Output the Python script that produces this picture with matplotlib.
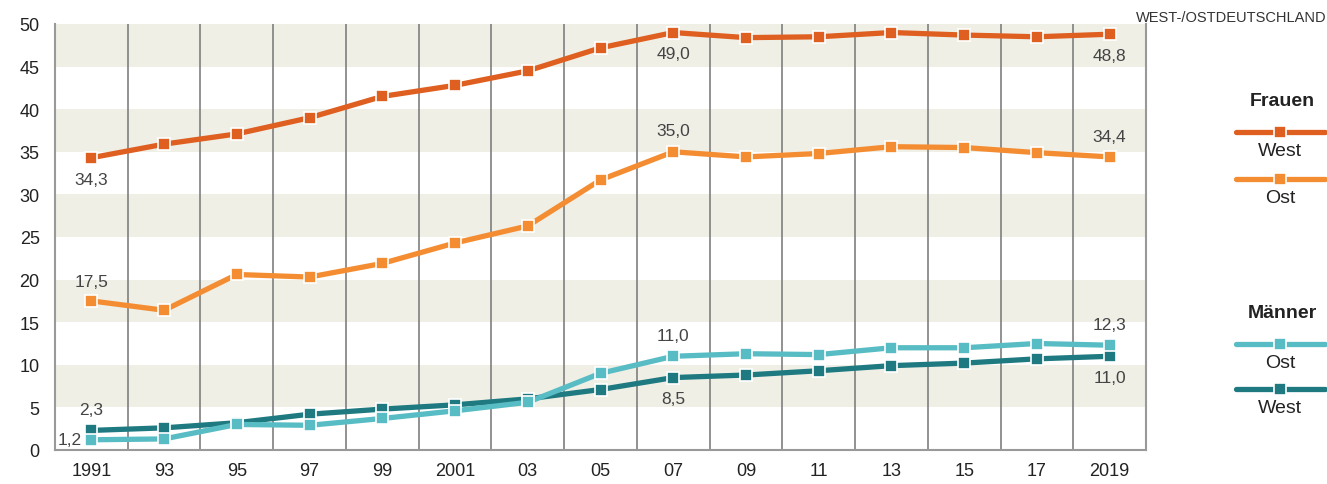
import numpy as np
import matplotlib.pyplot as plt

# DATEN

jahre = [1991, 1993, 1995, 1997, 1999, 2001, 2003, 2005, 2007, 2009, 2011, 2013, 2015, 2017, 2019]
jahr_labels = ['1991', '93', '95', '97', '99', '2001', '03', '05', '07', '09', '11', '13', '15', '17', '2019']

frauen_west = [34.3, 35.9, 37.1, 39.0, 41.5, 42.8, 44.5, 47.2, 49.0, 48.4, 48.5, 49.0, 48.7, 48.5, 48.8]
frauen_ost = [17.5, 16.4, 20.6, 20.3, 21.9, 24.3, 26.3, 31.7, 35.0, 34.4, 34.8, 35.6, 35.5, 34.9, 34.4]
maenner_ost = [1.2, 1.3, 3.0, 2.9, 3.7, 4.6, 5.6, 9.0, 11.0, 11.3, 11.2, 12.0, 12.0, 12.5, 12.3]
maenner_west = [2.3, 2.6, 3.2, 4.2, 4.8, 5.3, 6.0, 7.1, 8.5, 8.8, 9.3, 9.9, 10.2, 10.7, 11.0]

c_fw = '#de5f20'
c_fo = '#f48d32'
c_mo = '#58bcc4'
c_mw = '#1e7a80'
txt = '#444444'

plt.rcParams['font.family'] = ['Liberation Sans', 'DejaVu Sans']

fig = plt.figure(figsize=(13.27, 4.85), dpi=100)
ax = fig.add_axes([55/1327, 1-451/485, (1146-55)/1327, (451-25)/485])

# STREIFEN UND GITTER
for lo in [5, 15, 25, 35, 45]:
    ax.axhspan(lo, lo+5, color='#efefe6', lw=0, zorder=0)
for x in range(1992, 2019, 2):
    ax.axvline(x, color='#7f7f7f', lw=1.2, zorder=1)

def linie(werte, farbe):
    ax.plot(jahre, werte, color=farbe, lw=3.8, marker='s', ms=9,
            mfc=farbe, mec='white', mew=1.2, zorder=3, solid_capstyle='butt')

linie(maenner_west, c_mw)
linie(maenner_ost, c_mo)
linie(frauen_ost, c_fo)
linie(frauen_west, c_fw)

ax.set_xlim(1990, 2020)
ax.set_ylim(0, 50)
ax.set_xticks(jahre)
ax.set_xticklabels(jahr_labels)
ax.set_yticks(range(0, 51, 5))
ax.tick_params(axis='both', length=0, labelsize=13, colors='#222222')
ax.tick_params(axis='y', pad=11)
ax.tick_params(axis='x', pad=9)
for s in ['left', 'bottom', 'right']:
    ax.spines[s].set_color('#999999')
    ax.spines[s].set_linewidth(1.5)
ax.spines['top'].set_visible(False)

# WERTE-BESCHRIFTUNGEN
def wert(x, y, s, dy, ha='center', dx=0):
    ax.annotate(s, (x, y), xytext=(dx, dy), textcoords='offset points',
                ha=ha, va='center', fontsize=12.5, color=txt, zorder=4)

wert(1991, 34.3, '34,3', -16)
wert(1991, 17.5, '17,5', 14)
wert(1991, 2.3, '2,3', 15)
wert(1991, 1.2, '1,2', 0, ha='right', dx=-7)
wert(2007, 49.0, '49,0', -15)
wert(2007, 35.0, '35,0', 15)
wert(2007, 11.0, '11,0', 15)
wert(2007, 8.5, '8,5', -15)
wert(2019, 48.8, '48,8', -15)
wert(2019, 34.4, '34,4', 15)
wert(2019, 12.3, '12,3', 15)
wert(2019, 11.0, '11,0', -15)

# LEGENDE
fn = ['Liberation Sans Narrow', 'Liberation Sans', 'DejaVu Sans']
def px(x, y):
    return x/1327, 1-y/485

fig.text(*px(1327, 18), 'WEST-/OSTDEUTSCHLAND', ha='right', va='center',
         fontsize=10.5, color='#333333', family=fn)

def eintrag(y, farbe, name):
    x0, yy = px(1236, y)
    x1, _ = px(1325, y)
    xm, _ = px(1280, y)
    fig.add_artist(plt.Line2D([x0, x1], [yy, yy], color=farbe, lw=3.8,
                              solid_capstyle='round', transform=fig.transFigure))
    fig.add_artist(plt.Line2D([xm], [yy], marker='s', ms=9, mfc=farbe, mec='white',
                              mew=1.2, transform=fig.transFigure))
    fig.text(*px(1280, y+19), name, ha='center', va='center', fontsize=14,
             color='#222222', family=fn)

fig.text(*px(1282, 102), 'Frauen', ha='center', va='center', fontsize=14,
         fontweight='bold', color='#222222', family=fn)
eintrag(133, c_fw, 'West')
eintrag(180, c_fo, 'Ost')
fig.text(*px(1282, 314), 'Männer', ha='center', va='center', fontsize=14,
         fontweight='bold', color='#222222', family=fn)
eintrag(345, c_mo, 'Ost')
eintrag(390, c_mw, 'West')

fig.savefig('out.png', dpi=100)
